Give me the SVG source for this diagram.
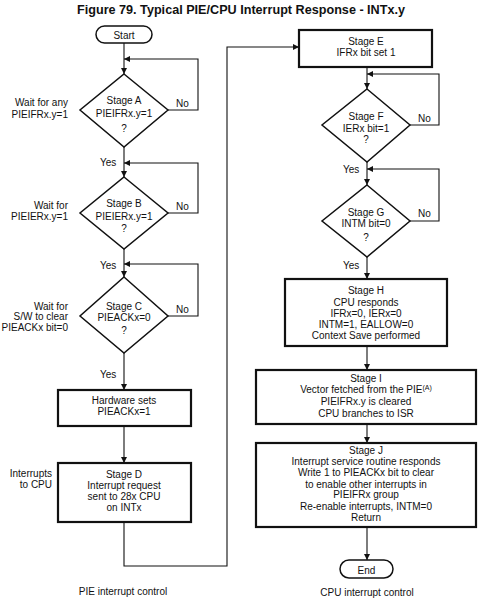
<svg xmlns="http://www.w3.org/2000/svg" width="481" height="600" viewBox="0 0 481 600">
<style>
text{font-family:"Liberation Sans",Arial,sans-serif;font-size:10px;fill:#111}
.c{text-anchor:middle}
.e{text-anchor:end}
.t{font-size:13.5px;font-weight:bold}
.box{fill:#fff;stroke:#111;stroke-width:2.2}
.dia{fill:#fff;stroke:#111;stroke-width:1.5}
.term{fill:#fff;stroke:#111;stroke-width:1.5}
.ln{fill:none;stroke:#111;stroke-width:1.1;marker-end:url(#ah)}
</style>
<defs>
<marker id="ah" markerUnits="userSpaceOnUse" markerWidth="7" markerHeight="6" refX="6" refY="3" orient="auto">
<path d="M0,0 L6,3 L0,6 z" fill="#111"/>
</marker>
</defs>
<rect width="481" height="600" fill="#fff"/>
<text class="t c" x="241" y="14" textLength="328" lengthAdjust="spacingAndGlyphs">Figure 79. Typical PIE/CPU Interrupt Response - INTx.y</text>

<g id="connectors">
<path class="ln" d="M124,43 V74"/>
<path class="ln" d="M168,110 H198 V59 H124"/>
<path class="ln" d="M124,147 V177"/>
<path class="ln" d="M168,213 H198 V163 H124"/>
<path class="ln" d="M124,249 V277"/>
<path class="ln" d="M168,316 H198 V264 H124"/>
<path class="ln" d="M124,353 V390"/>
<path class="ln" d="M124,426 V463"/>
<path class="ln" d="M124,522 V566 H227 V47 H299"/>
<path class="ln" d="M367,67 V89"/>
<path class="ln" d="M410,125 H439 V74 H367"/>
<path class="ln" d="M367,162 V185"/>
<path class="ln" d="M410,221 H439 V169 H367"/>
<path class="ln" d="M367,257 V279"/>
<path class="ln" d="M367,346 V370"/>
<path class="ln" d="M367,424 V443"/>
<path class="ln" d="M367,527 V560"/>
<text x="176" y="106.5">No</text>
<text x="100" y="166">Yes</text>
<text x="176" y="209.5">No</text>
<text x="100" y="268.5">Yes</text>
<text x="176" y="312.5">No</text>
<text x="100" y="378">Yes</text>
<text x="418" y="121.5">No</text>
<text x="343" y="172.5">Yes</text>
<text x="418" y="216.5">No</text>
<text x="343" y="268.5">Yes</text>
</g>

<g id="start">
<rect class="term" x="96" y="26" width="56" height="17" rx="8.5"/>
<text class="c" x="124" y="38.5">Start</text>
</g>

<g id="stageA">
<polygon class="dia" points="124,74 168,110 124,147 80,110"/>
<text class="c" x="124" y="103.5">Stage A</text>
<text class="c" x="124" y="116.5">PIEIFRx.y=1</text>
<text class="c" x="124" y="131.5">?</text>
<text class="e" x="68" y="105.5">Wait for any</text>
<text class="e" x="68" y="117.5">PIEIFRx.y=1</text>
</g>

<g id="stageB">
<polygon class="dia" points="124,177 168,213 124,249 80,213"/>
<text class="c" x="124" y="206.5">Stage B</text>
<text class="c" x="124" y="219.5">PIEIERx.y=1</text>
<text class="c" x="124" y="232">?</text>
<text class="e" x="68" y="208.5">Wait for</text>
<text class="e" x="68" y="219.5">PIEIERx.y=1</text>
</g>

<g id="stageC">
<polygon class="dia" points="124,277 168,316 124,353 80,316"/>
<text class="c" x="124" y="309.5">Stage C</text>
<text class="c" x="124" y="320.5">PIEACKx=0</text>
<text class="c" x="124" y="334">?</text>
<text class="e" x="68" y="309.5">Wait for</text>
<text class="e" x="68" y="319.5">S/W to clear</text>
<text class="e" x="68" y="330.5">PIEACKx bit=0</text>
</g>

<g id="hwsets">
<rect class="box" x="58" y="390" width="133" height="36"/>
<text class="c" x="124" y="404">Hardware sets</text>
<text class="c" x="124" y="415">PIEACKx=1</text>
</g>

<g id="stageD">
<rect class="box" x="58" y="463" width="133" height="59"/>
<text class="c" x="124" y="477.5">Stage D</text>
<text class="c" x="124" y="488.8">Interrupt request</text>
<text class="c" x="124" y="500.1">sent to 28x CPU</text>
<text class="c" x="124" y="511.4">on INTx</text>
<text class="e" x="52" y="476.5">Interrupts</text>
<text class="e" x="52" y="487.5">to CPU</text>
</g>

<text class="c" x="123" y="594.5">PIE interrupt control</text>

<g id="stageE">
<rect class="box" x="299" y="30" width="133" height="37"/>
<text class="c" x="366" y="44.5">Stage E</text>
<text class="c" x="366" y="55.5">IFRx bit set 1</text>
</g>

<g id="stageF">
<polygon class="dia" points="367,89 410,125 367,162 322,125"/>
<text class="c" x="366" y="119.5">Stage F</text>
<text class="c" x="366" y="131.5">IERx bit=1</text>
<text class="c" x="366" y="142.5">?</text>
</g>

<g id="stageG">
<polygon class="dia" points="367,185 410,221 367,257 322,221"/>
<text class="c" x="366" y="215.5">Stage G</text>
<text class="c" x="366" y="226.5">INTM bit=0</text>
<text class="c" x="366" y="240.5">?</text>
</g>

<g id="stageH">
<rect class="box" x="285" y="279" width="162" height="67"/>
<text class="c" x="366" y="293.5">Stage H</text>
<text class="c" x="366" y="305.5">CPU responds</text>
<text class="c" x="366" y="316.5">IFRx=0, IERx=0</text>
<text class="c" x="366" y="327.5">INTM=1, EALLOW=0</text>
<text class="c" x="366" y="338.5">Context Save performed</text>
</g>

<g id="stageI">
<rect class="box" x="256" y="370" width="220" height="54"/>
<text class="c" x="366" y="381.5">Stage I</text>
<text class="c" x="366" y="392.5">Vector fetched from the PIE<tspan font-size="7" dy="-3">(A)</tspan></text>
<text class="c" x="366" y="404.5">PIEIFRx.y is cleared</text>
<text class="c" x="366" y="416.5">CPU branches to ISR</text>
</g>

<g id="stageJ">
<rect class="box" x="256" y="443" width="220" height="84"/>
<text class="c" x="366" y="453.5">Stage J</text>
<text class="c" x="366" y="464.5">Interrupt service routine responds</text>
<text class="c" x="366" y="475.5">Write 1 to PIEACKx bit to clear</text>
<text class="c" x="366" y="487.5">to enable other interrupts in</text>
<text class="c" x="366" y="497.5">PIEIFRx group</text>
<text class="c" x="366" y="509.5">Re-enable interrupts, INTM=0</text>
<text class="c" x="366" y="520.5">Return</text>
</g>

<g id="end">
<rect class="term" x="340" y="560" width="53" height="18" rx="9"/>
<text class="c" x="366.5" y="573.5">End</text>
</g>

<text class="c" x="367" y="595.5">CPU interrupt control</text>
</svg>
